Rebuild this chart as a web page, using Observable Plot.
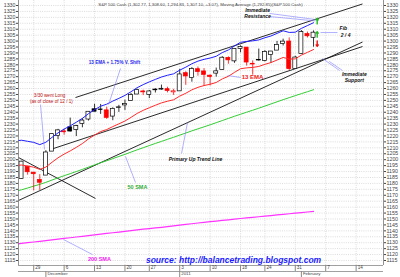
<!DOCTYPE html>
<html><head><meta charset="utf-8">
<script src="https://cdn.jsdelivr.net/npm/d3@7"></script>
<script src="https://cdn.jsdelivr.net/npm/@observablehq/plot@0.6"></script>
<style>body{margin:0;background:#fff;} svg{display:block}</style>
</head><body><div id="chart"></div>
<script>
// ---- data (S&P 500 Cash daily, Nov 23 2010 - Feb 3 2011) ----
const dates = ["2010-11-23","2010-11-24","2010-11-26","2010-11-29","2010-11-30","2010-12-01","2010-12-02","2010-12-03","2010-12-06","2010-12-07","2010-12-08","2010-12-09","2010-12-10","2010-12-13","2010-12-14","2010-12-15","2010-12-16","2010-12-17","2010-12-20","2010-12-21","2010-12-22","2010-12-23","2010-12-27","2010-12-28","2010-12-29","2010-12-30","2010-12-31","2011-01-03","2011-01-04","2011-01-05","2011-01-06","2011-01-07","2011-01-10","2011-01-11","2011-01-12","2011-01-13","2011-01-14","2011-01-18","2011-01-19","2011-01-20","2011-01-21","2011-01-24","2011-01-25","2011-01-26","2011-01-27","2011-01-28","2011-01-31","2011-02-01","2011-02-02","2011-02-03"];
const open  = [1192.51,1183.70,1194.16,1189.08,1182.96,1186.60,1206.81,1219.93,1223.87,1227.25,1225.02,1230.14,1233.85,1242.52,1241.84,1241.58,1236.34,1243.63,1245.76,1249.43,1254.94,1257.53,1254.66,1259.10,1259.08,1259.44,1256.76,1257.62,1272.95,1268.78,1276.29,1274.41,1270.84,1272.58,1275.65,1285.78,1282.90,1293.22,1294.52,1280.85,1283.63,1283.29,1288.17,1291.97,1297.51,1299.63,1276.50,1289.14,1305.91,1302.77];
const high  = [1192.51,1198.62,1194.16,1189.08,1187.40,1207.61,1221.89,1225.57,1225.80,1235.05,1228.93,1234.71,1240.40,1246.73,1246.59,1244.25,1243.75,1245.81,1250.20,1255.82,1259.39,1258.59,1258.43,1259.90,1262.90,1261.09,1259.34,1276.17,1274.12,1277.63,1278.17,1276.83,1271.52,1277.25,1286.87,1286.70,1293.24,1296.06,1294.60,1283.35,1293.26,1291.93,1291.26,1299.74,1301.63,1302.67,1287.17,1308.86,1307.61,1308.60];
const low   = [1176.91,1183.70,1186.93,1173.64,1174.14,1186.60,1206.81,1216.82,1220.67,1223.25,1219.50,1226.85,1232.58,1240.34,1238.17,1234.01,1232.85,1239.87,1241.51,1249.43,1254.94,1254.05,1251.48,1256.22,1258.48,1256.32,1254.19,1257.62,1262.66,1265.36,1270.43,1261.70,1262.18,1269.62,1275.65,1280.47,1281.24,1290.16,1278.92,1271.26,1283.07,1282.47,1281.07,1291.97,1295.86,1275.10,1276.50,1289.14,1302.62,1294.83];
const close = [1180.73,1198.35,1189.40,1187.76,1180.55,1206.07,1221.53,1224.71,1223.12,1223.75,1228.28,1233.00,1240.40,1240.46,1241.59,1235.23,1242.87,1243.91,1247.08,1254.60,1258.84,1256.77,1257.54,1258.51,1259.78,1257.88,1257.64,1271.87,1270.20,1276.56,1273.85,1271.50,1269.75,1274.48,1285.96,1283.76,1293.24,1295.02,1281.92,1280.26,1283.35,1290.84,1291.18,1296.63,1299.54,1276.34,1286.12,1307.59,1304.03,1307.10];
const prevClose0 = 1197.84;
const ema13    = [1195.0,1195.5,1194.6,1193.7,1191.8,1193.8,1197.8,1201.6,1204.7,1207.4,1210.4,1213.6,1217.5,1220.7,1223.7,1225.4,1227.9,1230.2,1232.6,1235.7,1239.0,1241.6,1243.8,1245.9,1247.9,1249.3,1250.5,1253.6,1256.0,1258.9,1261.0,1262.5,1263.6,1265.1,1268.1,1270.3,1273.6,1276.7,1277.4,1277.8,1278.6,1280.4,1281.9,1284.0,1286.2,1284.8,1285.0,1288.2,1290.5,1292.9];
const emaShift = [1215.9,1216.4,1215.5,1214.6,1212.7,1214.7,1218.8,1222.6,1225.8,1228.5,1231.6,1234.8,1238.8,1242.1,1245.1,1246.8,1249.4,1251.7,1254.2,1257.3,1260.7,1263.3,1265.6,1267.7,1269.7,1271.2,1272.4,1275.5,1278.0,1280.9,1283.1,1284.6,1285.7,1287.2,1290.3,1292.5,1295.9,1299.0,1299.7,1300.2,1301.0,1302.8,1304.3,1306.5,1308.7,1307.3,1307.5,1310.7,1313.1,1315.5];
const sma50    = [1173.4,1174.6,1176.1,1177.7,1179.2,1180.9,1182.8,1184.7,1186.5,1188.2,1190.0,1191.8,1193.7,1195.6,1197.4,1199.1,1200.9,1202.7,1204.5,1206.4,1208.3,1210.1,1211.9,1213.7,1215.4,1217.2,1218.9,1220.7,1222.5,1224.3,1226.0,1227.7,1229.4,1231.2,1233.0,1234.8,1236.6,1238.3,1240.0,1241.7,1243.4,1245.2,1247.0,1248.8,1250.6,1252.3,1254.0,1255.7,1257.3,1259.0];
const sma200   = [1128.8,1129.4,1130.0,1130.6,1131.2,1131.8,1132.4,1133.0,1133.6,1134.2,1134.8,1135.4,1136.0,1136.6,1137.2,1137.8,1138.4,1139.0,1139.6,1140.2,1140.8,1141.4,1141.9,1142.5,1143.0,1143.6,1144.2,1144.8,1145.4,1146.0,1146.6,1147.1,1147.7,1148.2,1148.8,1149.3,1149.9,1150.4,1150.9,1151.4,1151.9,1152.4,1152.9,1153.4,1153.9,1154.4,1154.9,1155.4,1155.9,1156.4];
// x-axis tick labels (trading-day index positions)
const weekTicks  = [3,8,13,18,22,27,32,37,41,46,51,56];
const weekLabels = ["29","6","13","20","27","3","10","18","24","31","7","14"];
const monthTicks = [5,27,47];
const monthLabels = ["December","2011","February"];
const yTicks = d3.range(1115, 1331, 5);
const title = "S&P 500 Cash (1,302.77, 1,308.60, 1,294.83, 1,307.10, +3.07), Moving Average (1,292.85)(S&P 500 Cash)";
// trend lines (trading-day index, price)
const trendLines = [
  {x1: 9.87, y1: 1252.4, x2: 57.05, y2: 1331.3},
  {x1: 5.76, y1: 1208.6, x2: 57.05, y2: 1295.4},
  {x1: 0.5,  y1: 1165.6, x2: 57.05, y2: 1299.2},
  {x1: 0.5,  y1: 1201.8, x2: 13.16, y2: 1167.3}
];
const arrows = [
  {x: 49.6, from: 1314.5, to: 1319.2, c: "#22bb22"},
  {x: 49.6, from: 1303.3, to: 1308.0, c: "#22bb22"},
  {x: 49.6, from: 1300.2, to: 1295.5, c: "#ee1111"}
];

// ---- build ----
const candles = dates.map((d, i) => ({i, o: open[i], h: high[i], l: low[i], c: close[i], pc: i ? close[i-1] : prevClose0}));
const series = arr => arr.map((v, i) => ({i, v}));
const col = d => d.c < d.pc ? "#ff0000" : "#000000";
const FONT = "'Liberation Sans', Arial, sans-serif";
const ptr = "#7a7aff";

const notes = [
  {x: 16.28, y: 1281.9, t: "13 EMA + 1.75% V. Shift", f: "#2323ee", s: 4.6, w: "bold", st: "normal"},
  {x: 5.6, y: 1254.1, t: "3/30 went Long", f: "#bb1111", s: 4.6, w: "normal", st: "normal"},
  {x: 5.9, y: 1249.1, t: "(as of close of 12 / 1)", f: "#bb1111", s: 4.6, w: "normal", st: "normal"},
  {x: 38.97, y: 1269.3, t: "13 EMA", f: "#ee2222", s: 6, w: "bold", st: "normal"},
  {x: 29.6, y: 1200.2, t: "Primary Up Trend Line", f: "#111", s: 5, w: "bold", st: "italic"},
  {x: 20.06, y: 1176.5, t: "50 SMA", f: "#33aa33", s: 5.5, w: "bold", st: "normal"},
  {x: 13.8, y: 1115.8, t: "200 SMA", f: "#ee22ee", s: 5.5, w: "bold", st: "normal"},
  {x: 39.8, y: 1325.8, t: "Immediate", f: "#111", s: 5, w: "bold", st: "italic"},
  {x: 39.8, y: 1320.7, t: "Resistance", f: "#111", s: 5, w: "bold", st: "italic"},
  {x: 53.9, y: 1310.6, t: "Fib", f: "#111", s: 5, w: "bold", st: "italic"},
  {x: 54.26, y: 1304.7, t: "2 / 4", f: "#111", s: 5, w: "bold", st: "italic"},
  {x: 55.7, y: 1271.8, t: "Immediate", f: "#111", s: 5, w: "bold", st: "italic"},
  {x: 55.7, y: 1266.8, t: "Support", f: "#111", s: 5, w: "bold", st: "italic"},
  {x: 35.85, y: 1115.0, t: "source: http://balancetrading.blogspot.com", f: "#1a1aff", s: 8.5, w: "bold", st: "italic"}
];
const pointers = [
  {x1: 17.27, y1: 1276.9, x2: 15.3, y2: 1246.5},
  {x1: 4.12, y1: 1246.5, x2: 4.77, y2: 1208.6},
  {x1: 37.0, y1: 1269.3, x2: 34.86, y2: 1271.0},
  {x1: 27.3, y1: 1205.2, x2: 28.28, y2: 1231.3},
  {x1: 19.73, y1: 1180.8, x2: 18.09, y2: 1202.7},
  {x1: 12.67, y1: 1120.0, x2: 7.9, y2: 1132.7},
  {x1: 41.76, y1: 1323.3, x2: 49.3, y2: 1318.2},
  {x1: 41.76, y1: 1320.7, x2: 49.3, y2: 1317.0},
  {x1: 52.94, y1: 1307.2, x2: 50.15, y2: 1307.2},
  {x1: 53.27, y1: 1275.2, x2: 50.48, y2: 1285.3},
  {x1: 53.76, y1: 1275.2, x2: 51.6, y2: 1282.8}
];

const yLo = 1110.78, yHi = 1334.22;

const chart = Plot.plot({
  width: 400, height: 277,
  marginLeft: 18, marginRight: 17, marginTop: 0, marginBottom: 12,
  x: {domain: [0.5, 60.5], axis: null},
  y: {domain: [yLo, yHi], axis: null},
  style: {fontFamily: FONT, background: "#fff", overflow: "visible"},
  marks: [
    Plot.ruleY(yTicks, {stroke: "#c4c4c4", strokeWidth: 0.6, strokeDasharray: "1,1.2"}),
    Plot.ruleX(weekTicks, {stroke: "#c4c4c4", strokeWidth: 0.6, strokeDasharray: "1,1.2"}),
    Plot.text([title], {x: 30.42, y: 1330.6, text: d => d, fontSize: 4.3, fill: "#444"}),
    // trend lines
    Plot.link(trendLines, {x1: "x1", y1: "y1", x2: "x2", y2: "y2", stroke: "#111", strokeWidth: 0.9, clip: true}),
    // moving averages
    Plot.line(series(sma200), {x: "i", y: "v", stroke: "#ff33ff", strokeWidth: 1.2, clip: true}),
    Plot.line(series(sma50), {x: "i", y: "v", stroke: "#33cc33", strokeWidth: 1, clip: true}),
    // candles
    Plot.ruleX(candles, {x: "i", y1: "l", y2: "h", stroke: col, strokeWidth: 0.8, clip: true}),
    Plot.rect(candles, {
      x1: d => d.i - 0.33, x2: d => d.i + 0.33,
      y1: "o", y2: d => Math.abs(d.c - d.o) < 0.5 ? d.o + 0.5 : d.c,
      fill: d => d.c > d.o ? "#fff" : col(d), stroke: col, strokeWidth: 0.7, clip: true
    }),
    Plot.line(series(ema13), {x: "i", y: "v", stroke: "#ff2a2a", strokeWidth: 1, clip: true}),
    Plot.line(series(emaShift), {x: "i", y: "v", stroke: "#1f1fff", strokeWidth: 1, clip: true}),
    // pointers
    Plot.link(pointers, {x1: "x1", y1: "y1", x2: "x2", y2: "y2", stroke: ptr, strokeWidth: 0.6}),
    Plot.arrow(arrows, {x1: "x", x2: "x", y1: "from", y2: "to", stroke: "c", strokeWidth: 1.4, headLength: 3.5, headAngle: 70}),
    ...notes.map(n => Plot.text([n], {x: "x", y: "y", text: "t", fill: n.f, fontSize: n.s, fontWeight: n.w, fontStyle: n.st})),
    // axes
    Plot.ruleX([0.5, 60.5], {stroke: "#777", strokeWidth: 0.8}),
    Plot.ruleY([yLo], {stroke: "#888", strokeWidth: 0.8}),
    Plot.ruleY([yLo], {stroke: "#888", strokeWidth: 0.8, dy: 6}),
    Plot.axisY({ticks: yTicks, anchor: "left", tickSize: 2, tickPadding: 1, fontSize: 5.3, color: "#444", tickFormat: d => String(d)}),
    Plot.axisY({ticks: yTicks, anchor: "right", tickSize: 2, tickPadding: 1, fontSize: 5.3, color: "#444", tickFormat: d => String(d)}),
    Plot.axisX({ticks: weekTicks, tickSize: 6, tickFormat: () => "", color: "#888"}),
    Plot.text(weekTicks, {x: d => d, frameAnchor: "bottom", dy: 3.3, dx: 1.5, text: (d, i) => weekLabels[i], textAnchor: "start", fontSize: 4.6, fill: "#444"}),
    Plot.axisX({ticks: monthTicks, tickSize: 6, tickFormat: () => "", color: "#888", dy: 6}),
    Plot.text(monthTicks, {x: d => d, frameAnchor: "bottom", dy: 9.2, dx: 1.5, text: (d, i) => monthLabels[i], textAnchor: "start", fontSize: 4.4, fill: "#444"})
  ]
});
document.getElementById("chart").appendChild(chart);
</script>
</body></html>
